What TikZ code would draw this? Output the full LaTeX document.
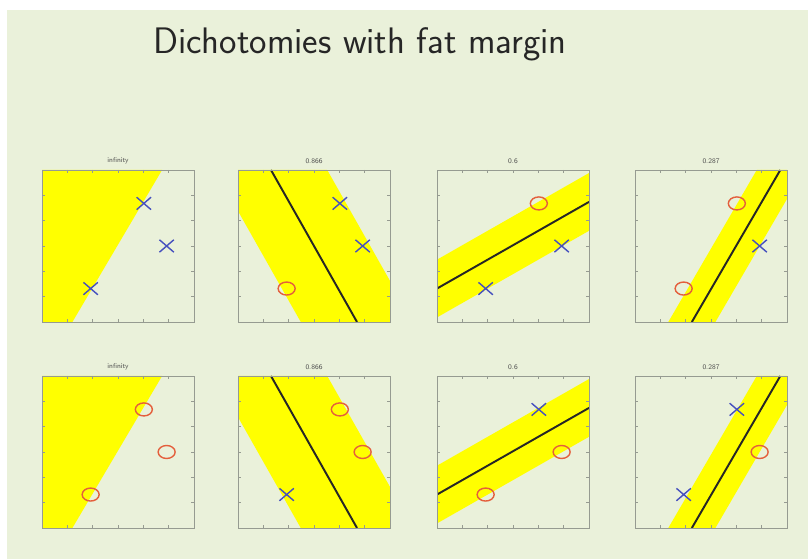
\documentclass[tikz,border=0pt]{standalone}
\usepackage{xcolor,tikz}
\usetikzlibrary{shapes.misc,shapes.geometric}

\definecolor{slidebg}{RGB}{234,241,218}
\definecolor{bandyellow}{RGB}{255,255,0}
\definecolor{markblue}{RGB}{70,80,190}
\definecolor{markred}{RGB}{228,95,60}
\definecolor{framegray}{RGB}{150,155,145}

\tikzset{
  xmark/.style={draw=markblue, cross out, line width=0.8pt, minimum width=0.26cm, minimum height=0.22cm, inner sep=0pt},
  omark/.style={draw=markred, ellipse, line width=0.8pt, minimum width=0.34cm, minimum height=0.26cm, inner sep=0pt},
  band/.style={fill=bandyellow},
  sep/.style={line width=1.1pt, black!85},
  axbox/.style={draw=framegray, line width=0.4pt},
  ptitle/.style={font=\sffamily\fontsize{4}{4}\selectfont, text=black!70},
}

% frame with inward ticks, in unit coordinates
\newcommand{\axframe}{%
  \draw[axbox] (0,0) rectangle (1,1);
  \foreach \k in {1,...,5} {
    \draw[axbox] (\k/6,0) -- ++(0,0.02);
    \draw[axbox] (\k/6,1) -- ++(0,-0.02);
    \draw[axbox] (0,\k/6) -- ++(0.02,0);
    \draw[axbox] (1,\k/6) -- ++(-0.02,0);
  }%
}

\begin{document}
\begin{tikzpicture}
    \useasboundingbox (0,0) rectangle (16.16,11.18);
    \fill[slidebg] (0.14,0) rectangle (16.16,10.98);
    \node (title) [anchor=base, font=\sffamily\fontsize{21}{24}\selectfont, text=black!85] at (7.2,10.1) {Dichotomies with fat margin};

    \foreach \r/\yb/\mA/\mB in {t/4.74/xmark/omark, b/0.62/omark/xmark} {
      % panel 1
      \begin{scope}[shift={(0.84,\yb)}, x=3.04cm, y=3.04cm]
        \begin{scope}
          \clip (0,0) rectangle (1,1);
          \fill[band] (0,0) -- (0.20,0) -- (0.79,1) -- (0,1) -- cycle;
        \end{scope}
        \axframe
        \node (\r1t) [ptitle] at (0.5,1.06) {infinity};
        \node (\r1a) [\mA] at (0.67,0.78) {};
        \node (\r1b) [\mA] at (0.82,0.50) {};
        \node (\r1c) [\mA] at (0.32,0.22) {};
      \end{scope}
      % panel 2
      \begin{scope}[shift={(4.76,\yb)}, x=3.04cm, y=3.04cm]
        \begin{scope}
          \clip (0,0) rectangle (1,1);
          \fill[band] (0.413,0) -- (1.153,0) -- (0.587,1) -- (-0.153,1) -- cycle;
          \draw[sep] (0.783,0) -- (0.217,1);
        \end{scope}
        \axframe
        \node (\r2t) [ptitle] at (0.5,1.06) {0.866};
        \node (\r2a) [\mA] at (0.67,0.78) {};
        \node (\r2b) [\mA] at (0.82,0.50) {};
        \node (\r2c) [\mB] at (0.32,0.22) {};
      \end{scope}
      % panel 3
      \begin{scope}[shift={(8.74,\yb)}, x=3.04cm, y=3.04cm]
        \begin{scope}
          \clip (0,0) rectangle (1,1);
          \fill[band] (0,0.03) -- (1,0.60) -- (1,0.98) -- (0,0.41) -- cycle;
          \draw[sep] (0,0.22) -- (1,0.79);
        \end{scope}
        \axframe
        \node (\r3t) [ptitle] at (0.5,1.06) {0.6};
        \node (\r3a) [\mB] at (0.67,0.78) {};
        \node (\r3b) [\mA] at (0.82,0.50) {};
        \node (\r3c) [\mA] at (0.32,0.22) {};
      \end{scope}
      % panel 4
      \begin{scope}[shift={(12.70,\yb)}, x=3.04cm, y=3.04cm]
        \begin{scope}
          \clip (0,0) rectangle (1,1);
          \fill[band] (0.219,0) -- (0.529,0) -- (1.111,1) -- (0.801,1) -- cycle;
          \draw[sep] (0.374,0) -- (0.956,1);
        \end{scope}
        \axframe
        \node (\r4t) [ptitle] at (0.5,1.06) {0.287};
        \node (\r4a) [\mB] at (0.67,0.78) {};
        \node (\r4b) [\mA] at (0.82,0.50) {};
        \node (\r4c) [\mB] at (0.32,0.22) {};
      \end{scope}
    }
\end{tikzpicture}
\end{document}
